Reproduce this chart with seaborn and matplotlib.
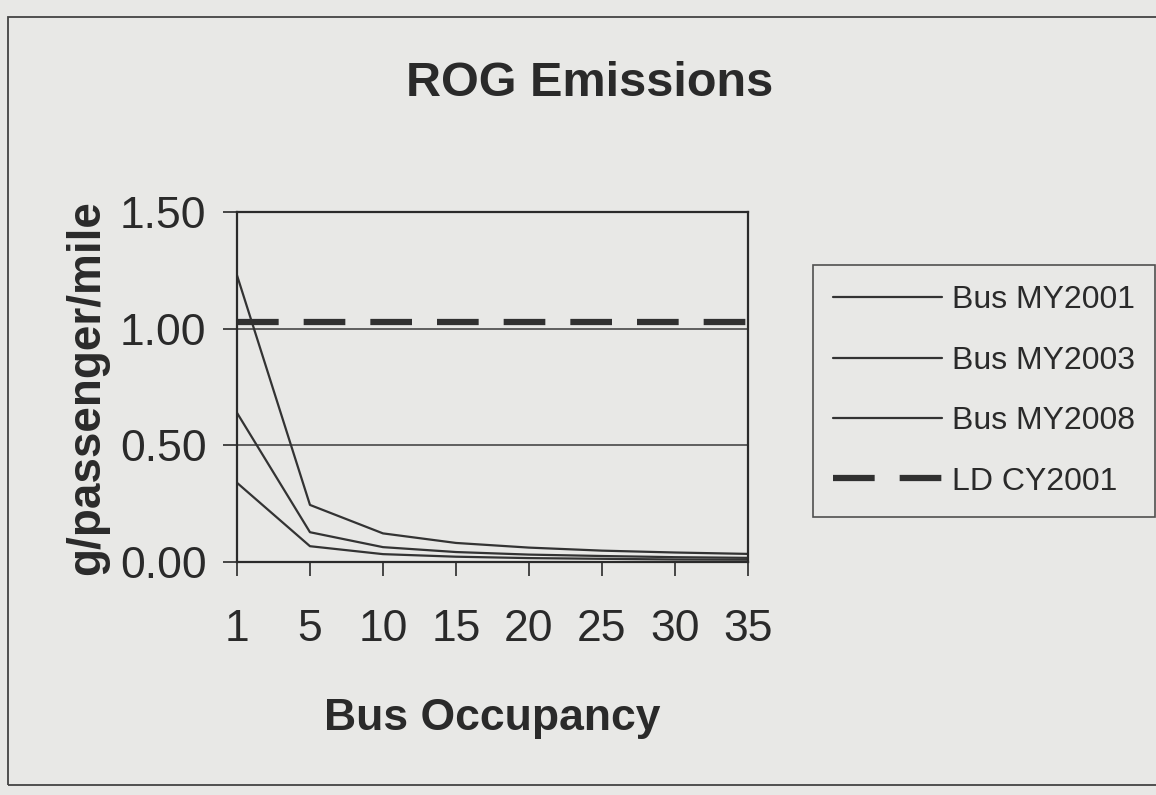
import pandas as pd
import matplotlib.pyplot as plt
import seaborn as sns
from matplotlib.patches import Rectangle

# Chart values
occupancy = ["1", "5", "10", "15", "20", "25", "30", "35"]
bus_my2001 = [1.23, 0.245, 0.123, 0.082, 0.062, 0.049, 0.041, 0.035]
bus_my2003 = [0.64, 0.128, 0.064, 0.043, 0.032, 0.026, 0.021, 0.018]
bus_my2008 = [0.34, 0.068, 0.034, 0.023, 0.017, 0.014, 0.011, 0.010]
ld_cy2001 = [1.03, 1.03, 1.03, 1.03, 1.03, 1.03, 1.03, 1.03]
y_ticks = [0.0, 0.5, 1.0, 1.5]

series = {
    "Bus MY2001": bus_my2001,
    "Bus MY2003": bus_my2003,
    "Bus MY2008": bus_my2008,
    "LD CY2001": ld_cy2001,
}

bg = "#e8e8e6"
ink = "#2a2a2a"

sns.set_theme(style="white")
plt.rcParams["font.family"] = ["Liberation Sans", "DejaVu Sans"]
plt.rcParams["lines.scale_dashes"] = False

fig = plt.figure(figsize=(11.56, 7.95), dpi=100, facecolor=bg)
ax = fig.add_axes([0.205, 0.293, 0.442, 0.440])
ax.set_facecolor(bg)

for name, vals in series.items():
    df = pd.DataFrame({"Occupancy": occupancy, "Value": vals})
    if name == "LD CY2001":
        sns.lineplot(data=df, x="Occupancy", y="Value", ax=ax, color="#303030",
                     linewidth=4.5, label=name, sort=False)
        ax.lines[-1].set_dashes((30, 18))
    else:
        sns.lineplot(data=df, x="Occupancy", y="Value", ax=ax, color="#333333",
                     linewidth=1.6, label=name, sort=False)

# gridlines
for y in [0.5, 1.0]:
    ax.axhline(y, color="#3a3a3a", linewidth=1.1, zorder=0)

ax.set_xlim(0, 7)
ax.set_ylim(0, 1.5)
ax.set_yticks(y_ticks)
ax.set_yticklabels([f"{v:.2f}" for v in y_ticks])

for sp in ax.spines.values():
    sp.set_visible(True)
    sp.set_color(ink)
    sp.set_linewidth(1.6)

ax.tick_params(axis="both", direction="out", length=10, width=1.2, color=ink,
               labelsize=32, labelcolor=ink, bottom=True, left=True)
ax.tick_params(axis="y", pad=12)
ax.tick_params(axis="x", pad=24)

ax.set_xlabel("Bus Occupancy", fontsize=32, fontweight="bold", color=ink, labelpad=34)
ax.set_ylabel("g/passenger/mile", fontsize=33, fontweight="bold", color=ink, labelpad=8)

fig.text(0.51, 0.895, "ROG Emissions", ha="center", va="center",
         fontsize=35, fontweight="bold", color=ink)

leg = ax.legend(loc="upper left", bbox_to_anchor=(0.703, 0.667),
                bbox_transform=fig.transFigure, frameon=True, fancybox=False,
                fontsize=23, handlelength=3.4, labelspacing=0.95,
                borderpad=0.65, handletextpad=0.3, borderaxespad=0)
leg.get_frame().set_edgecolor(ink)
leg.get_frame().set_linewidth(1.2)
leg.get_frame().set_facecolor(bg)
for t in leg.get_texts():
    t.set_color(ink)

# outer border of the scanned chart
fig.patches.append(Rectangle((0.007, 0.012), 1.2, 0.966, transform=fig.transFigure,
                             fill=False, edgecolor="#444444", linewidth=1.3))

fig.savefig("out.png", dpi=100, facecolor=bg)
